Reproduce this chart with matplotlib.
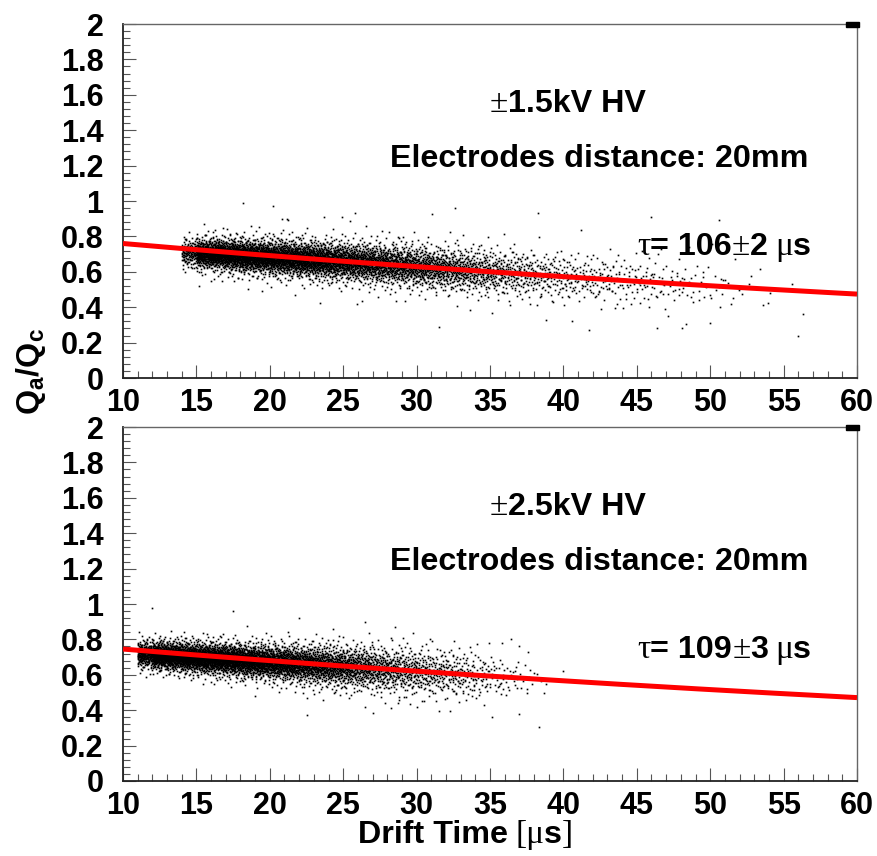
import numpy as np
import matplotlib
matplotlib.use("Agg")
import matplotlib.pyplot as plt
from matplotlib.ticker import MultipleLocator, FuncFormatter
from matplotlib.patches import Rectangle
from statistics import NormalDist

# ---------------- data ----------------
# Upper panel (+-1.5 kV): per 1-us drift-time bin: number of events, mean and core spread of Qa/Qc
top_bin_start = list(range(14, 56))
top_counts = [150, 380, 420, 420, 420, 410, 400, 390, 375, 350, 325, 300, 280, 260, 240, 220,
              195, 175, 155, 135, 115, 98, 84, 70, 60, 52, 45, 40, 35, 30, 27, 24, 21, 18,
              15, 12, 9, 6, 4, 2, 1, 1]
top_mean = [0.708, 0.704, 0.700, 0.695, 0.690, 0.686, 0.681, 0.676, 0.671, 0.666, 0.661, 0.656,
            0.651, 0.645, 0.640, 0.634, 0.626, 0.620, 0.614, 0.608, 0.602, 0.596, 0.591, 0.585,
            0.580, 0.575, 0.569, 0.564, 0.558, 0.553, 0.548, 0.543, 0.538, 0.533, 0.528, 0.523,
            0.518, 0.513, 0.508, 0.503, 0.490, 0.480]
top_sigma = [0.034, 0.034, 0.035, 0.036, 0.037, 0.038, 0.039, 0.040, 0.041, 0.042, 0.043, 0.044,
             0.045, 0.046, 0.047, 0.048, 0.049, 0.050, 0.051, 0.052, 0.053, 0.054, 0.055, 0.056,
             0.057, 0.058, 0.059, 0.060, 0.061, 0.062, 0.063, 0.064, 0.065, 0.065, 0.065, 0.065,
             0.065, 0.065, 0.065, 0.065, 0.065, 0.065]
top_out_x = [18.2, 20.2, 20.8, 21.2, 24.9, 25.8, 32.6, 38.3, 46.0, 50.6, 15.2, 19.5, 40.6, 46.4,
             48.1, 50.0, 53.6, 56.3, 56.0]
top_out_y = [0.99, 0.97, 0.90, 0.90, 0.91, 0.93, 0.96, 0.93, 0.91, 0.89, 0.52, 0.49, 0.32, 0.28,
             0.28, 0.31, 0.41, 0.36, 0.24]
top_A, top_tau = 0.835, 106.0

# Lower panel (+-2.5 kV)
bot_bin_start = list(range(11, 40))
bot_counts = [280, 480, 480, 470, 460, 450, 430, 410, 390, 365, 335, 305, 275, 245, 215, 185,
              160, 135, 115, 98, 82, 68, 54, 40, 28, 18, 12, 5, 1]
bot_mean = [0.716, 0.711, 0.706, 0.701, 0.696, 0.691, 0.686, 0.680, 0.675, 0.670, 0.665, 0.659,
            0.654, 0.649, 0.643, 0.638, 0.632, 0.627, 0.621, 0.616, 0.610, 0.605, 0.599, 0.594,
            0.589, 0.583, 0.578, 0.573, 0.568]
bot_sigma = [0.031, 0.031, 0.032, 0.033, 0.034, 0.035, 0.036, 0.037, 0.038, 0.039, 0.041, 0.043,
             0.045, 0.047, 0.049, 0.051, 0.053, 0.055, 0.056, 0.057, 0.058, 0.059, 0.060, 0.061,
             0.062, 0.063, 0.064, 0.065, 0.066]
bot_out_x = [12.0, 17.5, 26.5, 24.3, 22.5]
bot_out_y = [0.98, 0.96, 0.90, 0.86, 0.47]
bot_A, bot_tau = 0.817, 109.0

hv_labels = ["1.5kV HV", "2.5kV HV"]
tau_values = ["106", "109"]
tau_errors = ["2", "3"]
distance_label = "Electrodes distance: 20mm"
x_ticks = [10, 15, 20, 25, 30, 35, 40, 45, 50, 55, 60]
y_ticks = [0, 0.2, 0.4, 0.6, 0.8, 1, 1.2, 1.4, 1.6, 1.8, 2]

# fraction of events in the wide (tail) component and its width relative to the core
TAIL_FRAC = 0.25
TAIL_SCALE = 1.7

# ---------------- helpers ----------------
_nd = NormalDist()


def vdc(k, base):
    f, r = 1.0, 0.0
    while k > 0:
        f /= base
        r += f * (k % base)
        k //= base
    return r


def expand_bins(starts, counts, means, sigmas, offset):
    xs, ys = [], []
    g = offset
    for x0, n, m, s in zip(starts, counts, means, sigmas):
        n_tail = int(round(n * TAIL_FRAC))
        for k in range(n):
            g += 1
            sc = s * (TAIL_SCALE if k < n_tail else 1.0)
            xs.append(x0 + vdc(g, 2))
            ys.append(m + sc * _nd.inv_cdf(vdc(g, 3)))
    return np.array(xs), np.array(ys)


W, H = 877, 856
fig = plt.figure(figsize=(W / 100, H / 100), dpi=100)
fig.patch.set_facecolor("white")

SANS = "Liberation Sans"
SERIF = "Liberation Serif"
FS = 23.2
bold = dict(family=SANS, weight="bold", size=FS)
sym = dict(family=SERIF, weight="normal", size=FS + 0.8)


def rich(x_px, y_px, pieces):
    """Draw pieces left to right starting at pixel x, baseline at pixel y (from top)."""
    renderer = fig.canvas.get_renderer()
    x = x_px
    for s, kw, gap in pieces:
        t = fig.text(x / W, 1 - y_px / H, s, ha="left", va="baseline", **kw)
        bb = t.get_window_extent(renderer=renderer)
        x += bb.width + gap


def make_axes(top_px):
    left, right, bottom = 123, 857, top_px + 354
    ax = fig.add_axes([left / W, 1 - bottom / H, (right - left) / W, 354 / H])
    ax.set_xlim(10, 60)
    ax.set_ylim(0, 2)
    ax.set_xticks(x_ticks)
    ax.set_yticks(y_ticks)
    ax.xaxis.set_minor_locator(MultipleLocator(1))
    ax.yaxis.set_minor_locator(MultipleLocator(0.04))
    ax.yaxis.set_major_formatter(FuncFormatter(lambda v, p: "%g" % v))
    ax.tick_params(which="both", direction="in", top=False, right=False, color="#555555", width=0.8)
    ax.tick_params(which="major", length=9.5)
    ax.tick_params(which="minor", length=4.7)
    ax.tick_params(axis="y", pad=14)
    ax.tick_params(axis="x", pad=7)
    for lab in ax.get_xticklabels() + ax.get_yticklabels():
        lab.set_fontfamily(SANS)
        lab.set_fontweight("bold")
        lab.set_fontsize(22)
    for sp in ["left", "bottom"]:
        ax.spines[sp].set_color("#222222")
        ax.spines[sp].set_linewidth(1.3)
    for sp in ["top", "right"]:
        ax.spines[sp].set_color("#666666")
        ax.spines[sp].set_linewidth(1.0)
    return ax


panels = [
    (24, top_bin_start, top_counts, top_mean, top_sigma, top_out_x, top_out_y, top_A, top_tau, 0),
    (427, bot_bin_start, bot_counts, bot_mean, bot_sigma, bot_out_x, bot_out_y, bot_A, bot_tau, 1),
]

for (top_px, starts, counts, means, sigmas, ox, oy, A, tau, i) in panels:
    ax = make_axes(top_px)
    xs, ys = expand_bins(starts, counts, means, sigmas, 1000 * (i + 1))
    xs = np.concatenate([xs, ox])
    ys = np.concatenate([ys, oy])
    ax.plot(xs, ys, ls="none", marker="s", ms=1.2, mew=0, color="black", zorder=2)
    tt = np.linspace(10, 60, 300)
    ax.plot(tt, A * np.exp(-tt / tau), color="#ff0000", lw=3.6, zorder=3, solid_capstyle="butt")
    # small black mark in the upper-right corner (ROOT artefact)
    fig.patches.append(Rectangle((846 / W, 1 - (top_px + 3) / H), 13 / W, 5 / H,
                                 transform=fig.transFigure, color="black", zorder=5))
    # annotations
    rich(490, top_px + 88, [("±", sym, 0), (hv_labels[i], bold, 0)])
    rich(390, top_px + 143, [(distance_label, bold, 0)])
    rich(637, top_px + 231, [("τ", sym, 0), ("= " + tau_values[i], bold, 0), ("±", sym, 0),
                             (tau_errors[i], bold, 7), ("μ", sym, 0), ("s", bold, 0)])

# axis titles
rich(358, 843, [("Drift Time", bold, 7), ("[μ", sym, 0), ("s", bold, 0), ("]", sym, 0)])
plt.rcParams["mathtext.fontset"] = "custom"
plt.rcParams["mathtext.bf"] = "Liberation Sans:bold"
plt.rcParams["mathtext.rm"] = "Liberation Sans"
fig.text(31 / W, 1 - 372 / H, r"$\mathbf{Q_a/Q_c}$", rotation=90, ha="center", va="center",
         fontsize=FS)

fig.savefig("out.png", dpi=100, facecolor="white")
